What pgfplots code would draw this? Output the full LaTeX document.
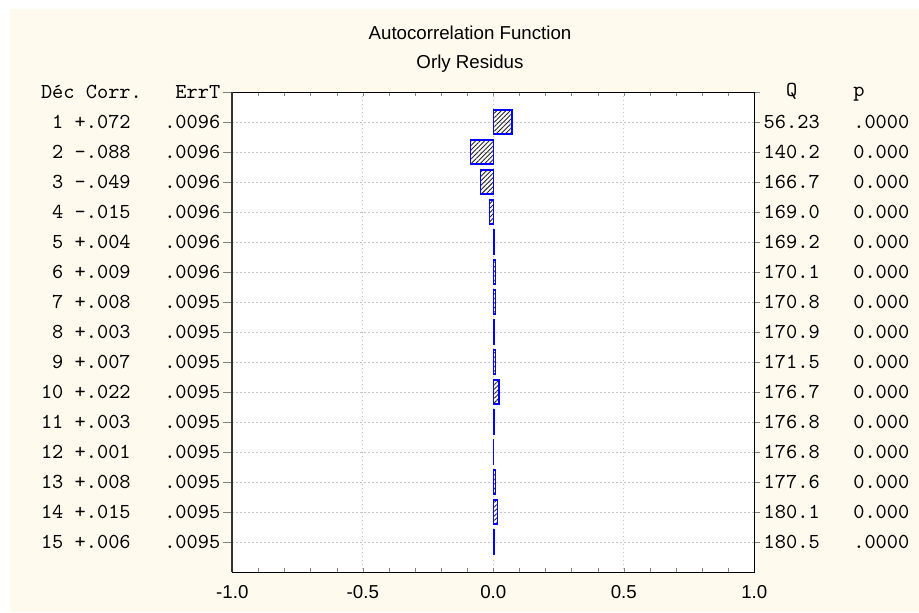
\documentclass[border=0pt]{standalone}
\usepackage{pgfplots}
\pgfplotsset{compat=1.18}
\usepackage{fontspec}
\setmainfont{Liberation Sans}
\usetikzlibrary{patterns.meta}
\definecolor{cream}{RGB}{255,249,238}
\newcommand\cw{\hphantom{0}}
\newcommand\lrow[3]{\makebox[1.05em][r]{#1}\cw#2\cw\cw\cw#3}
\newcommand\rrow[2]{#1\cw\cw\cw#2}
\newcommand\monofont{\ttfamily\fontsize{10.67}{12}\selectfont}
\newcommand\sansfont{\fontsize{9.35}{11}\selectfont}

\begin{document}
\begin{tikzpicture}
\useasboundingbox (0,0) rectangle (459.5pt,306pt);
\fill[white] (0,0) rectangle (459.5pt,306pt);
\fill[cream] (5pt,0) rectangle (459.5pt,301.5pt);
\node[font=\sansfont, anchor=base] at (235pt,286.3pt) {Autocorrelation Function};
\node[font=\sansfont, anchor=base] at (235pt,272pt) {Orly Residus};

\pgfplotsset{acf/.style={
    scale only axis, width=261pt, height=240pt,
    at={(116.15pt,20pt)}, anchor=south west,
    xmin=-1, xmax=1, ymin=0, ymax=16, y dir=reverse}}

% bars, grid and the x axis
\begin{axis}[acf,
    axis background/.style={fill=white},
    xtick={-1,-0.5,0,0.5,1},
    xticklabels={-1.0,-0.5,0.0,0.5,1.0},
    minor x tick num=4,
    xtick align=inside,
    major tick length=2pt, minor tick length=2pt,
    ytick={1,...,15}, yticklabels={},
    ytick style={draw=none},
    grid=major,
    major grid style={gray!45, dash pattern=on 0.6pt off 1.4pt},
    xticklabel style={font=\sansfont, yshift=-3.4pt},
    axis line style={black, line width=0.5pt},
    xbar, bar width=0.8,
]
\addplot[draw=blue, line width=0.6pt,
    pattern={Lines[angle=45,distance=1.6pt,line width=0.45pt]},
    pattern color=black!85] coordinates {
    (0.072,1) (-0.088,2) (-0.049,3) (-0.015,4) (0.004,5)
    (0.009,6) (0.008,7) (0.003,8) (0.007,9) (0.022,10)
    (0.003,11) (0.001,12) (0.008,13) (0.015,14) (0.006,15)
};
\end{axis}

% left table: lag, correlation, standard error
\begin{axis}[acf,
    axis x line=none, axis y line*=left,
    ytick={0,...,15},
    yticklabels={
        {Déc\cw Corr.\cw\cw\cw ErrT},
        {\lrow{1}{+.072}{.0096}},
        {\lrow{2}{-.088}{.0096}},
        {\lrow{3}{-.049}{.0096}},
        {\lrow{4}{-.015}{.0096}},
        {\lrow{5}{+.004}{.0096}},
        {\lrow{6}{+.009}{.0096}},
        {\lrow{7}{+.008}{.0095}},
        {\lrow{8}{+.003}{.0095}},
        {\lrow{9}{+.007}{.0095}},
        {\lrow{10}{+.022}{.0095}},
        {\lrow{11}{+.003}{.0095}},
        {\lrow{12}{+.001}{.0095}},
        {\lrow{13}{+.008}{.0095}},
        {\lrow{14}{+.015}{.0095}},
        {\lrow{15}{+.006}{.0095}}},
    ytick align=outside, major tick length=4.5pt,
    yticklabel style={font=\monofont, inner sep=0.5pt, xshift=-0.8pt},
    axis line style={line width=0.9pt, black!80},
]
\end{axis}

% right table: Box-Ljung Q and p
\begin{axis}[acf,
    axis x line=none, axis y line*=right,
    ytick={0,...,15},
    yticklabels={
        {\cw\cw Q\cw\cw\cw\cw\cw p},
        {\rrow{56.23}{.0000}},
        {\rrow{140.2}{0.000}},
        {\rrow{166.7}{0.000}},
        {\rrow{169.0}{0.000}},
        {\rrow{169.2}{0.000}},
        {\rrow{170.1}{0.000}},
        {\rrow{170.8}{0.000}},
        {\rrow{170.9}{0.000}},
        {\rrow{171.5}{0.000}},
        {\rrow{176.7}{0.000}},
        {\rrow{176.8}{0.000}},
        {\rrow{176.8}{0.000}},
        {\rrow{177.6}{0.000}},
        {\rrow{180.1}{0.000}},
        {\rrow{180.5}{.0000}}},
    ytick align=outside, major tick length=3pt,
    yticklabel style={font=\monofont, inner sep=0.5pt, xshift=1pt},
    axis line style={line width=0.5pt, black},
]
\end{axis}
\end{tikzpicture}
\end{document}
